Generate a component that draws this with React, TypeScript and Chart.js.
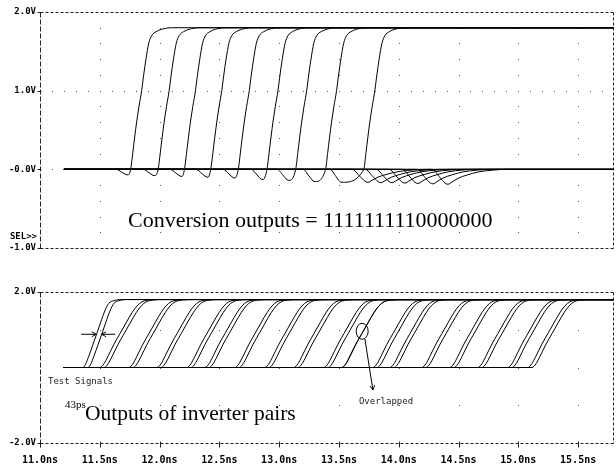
import React, { useEffect, useRef } from "react";
import { Chart, registerables } from "chart.js";

Chart.register(...registerables);

// ---------- axes ----------
const X_MIN = 11.0;
const X_MAX = 15.8;
const X_TICKS = [11.0, 11.5, 12.0, 12.5, 13.0, 13.5, 14.0, 14.5, 15.0, 15.5];
const X_TICK_LABELS = ["11.0ns", "11.5ns", "12.0ns", "12.5ns", "13.0ns", "13.5ns", "14.0ns", "14.5ns", "15.0ns", "15.5ns"];
const TOP_Y_TICKS = [-1, 0, 1, 2];
const TOP_Y_LABELS = ["-1.0V", "-0.0V", "1.0V", "2.0V"];
const BOT_Y_TICKS = [-2, 2];
const BOT_Y_LABELS = ["-2.0V", "2.0V"];
const GRID_X = [11.5, 12.0, 12.5, 13.0, 13.5, 14.0, 14.5, 15.0, 15.5];
const TOP_DOT_V = [-0.8, -0.6, -0.4, -0.2, 0, 0.2, 0.4, 0.6, 0.8, 1.0, 1.2, 1.4, 1.6, 1.8];
const TOP_HLINE_V = [0, 1];
const BOT_DOT_V = [-1, 0, 1];

// ---------- common levels ----------
const START_T = 11.2;
const END_T = 15.8;
const HIGH_V = 1.8;

// ---------- top panel: comparator outputs (9 ones, 7 zeros) ----------
const ONE_RISE_T = [11.85, 12.08, 12.30, 12.52, 12.75, 12.99, 13.23, 13.48, 13.80]; // 1.0V crossing
const ONE_DIP_T = [11.736, 11.962, 12.188, 12.405, 12.631, 12.865, 13.083, 13.300, 13.525];
const ONE_DIP_V = [-0.07, -0.08, -0.09, -0.10, -0.11, -0.13, -0.14, -0.155, -0.165];
const ZERO_DIP_T = [13.743, 13.852, 13.944, 14.052, 14.161, 14.286, 14.412];
const ZERO_DIP_V = [-0.165, -0.17, -0.17, -0.175, -0.18, -0.185, -0.19];

// rise waveform (time from 1.0V crossing, volts)
const RISE_DT = [-0.092, -0.075, -0.059, -0.042, -0.022, 0, 0.017, 0.036, 0.059, 0.084, 0.121, 0.167, 0.25];
const RISE_V = [0, 0.2, 0.4, 0.6, 0.8, 1.0, 1.2, 1.4, 1.6, 1.7, 1.75, 1.78, 1.8];
// undershoot before the rise (time from dip minimum, fraction of dip depth)
const DIP_DT = [-0.1, -0.05, -0.017, 0];
const DIP_K = [0, 0.55, 0.95, 1];
// undershoot of a "0" output (time from dip minimum, fraction of depth)
const ZERO_DT = [-0.134, -0.067, -0.025, 0, 0.033, 0.084, 0.159, 0.25, 0.376, 0.5];
const ZERO_K = [0, 0.55, 0.92, 1, 0.85, 0.6, 0.38, 0.18, 0.05, 0];

// ---------- bottom panel: test signals and inverter pair outputs ----------
const TEST_MID_T = [11.475, 11.518]; // 0.9V crossing, 43ps apart
const PAIR_A_MID_T = [11.669, 11.911, 12.146, 12.396, 12.547, 12.798, 13.048, 13.291, 13.542, 13.692, 13.952, 14.094, 14.361, 14.595, 14.829, 15.080, 15.247];
const PAIR_B_MID_T = [11.704, 11.946, 12.181, 12.431, 12.582, 12.833, 13.083, 13.326, 13.577, 13.692, 13.987, 14.129, 14.396, 14.630, 14.864, 15.115, 15.282];
const TEST_DT = [-0.117, -0.092, -0.067, -0.033, 0, 0.033, 0.067, 0.1, 0.142, 0.209];
const TEST_V = [0, 0.1, 0.3, 0.6, 0.9, 1.2, 1.5, 1.7, 1.77, 1.8];
const INV_DT = [-0.167, -0.134, -0.1, -0.05, 0, 0.05, 0.1, 0.142, 0.184, 0.25, 0.334];
const INV_V = [0, 0.1, 0.3, 0.62, 0.9, 1.18, 1.45, 1.63, 1.74, 1.79, 1.8];

type P = { x: number; y: number };

function onePoints(i: number): P[] {
  const pts: P[] = [{ x: START_T, y: 0 }];
  DIP_DT.forEach((dt, k) => pts.push({ x: ONE_DIP_T[i] + dt, y: ONE_DIP_V[i] * DIP_K[k] }));
  RISE_DT.forEach((dt, k) => pts.push({ x: ONE_RISE_T[i] + dt, y: RISE_V[k] }));
  pts.push({ x: END_T, y: HIGH_V });
  return pts;
}
function zeroPoints(i: number): P[] {
  const pts: P[] = [{ x: START_T, y: 0 }];
  ZERO_DT.forEach((dt, k) => pts.push({ x: ZERO_DIP_T[i] + dt, y: ZERO_DIP_V[i] * ZERO_K[k] }));
  pts.push({ x: END_T, y: 0 });
  return pts;
}
function stepPoints(mid: number, dts: number[], vs: number[]): P[] {
  const pts: P[] = [{ x: START_T, y: 0 }];
  dts.forEach((dt, k) => pts.push({ x: mid + dt, y: vs[k] }));
  pts.push({ x: END_T, y: HIGH_V });
  return pts;
}

function lineDs(data: P[]) {
  return {
    data,
    borderColor: "#000",
    borderWidth: 1,
    pointRadius: 0,
    cubicInterpolationMode: "monotone" as const,
    fill: false,
  };
}

const MONO = '"DejaVu Sans Mono", "Liberation Mono", monospace';
const SERIF = '"Liberation Serif", "Times New Roman", serif';

function crisp(v: number) {
  return Math.round(v) + 0.5;
}

function framePlugin(id: string, dotV: number[], hLines: number[], xTicksMarks: boolean) {
  return {
    id,
    beforeDatasetsDraw(chart: any) {
      const { ctx, chartArea } = chart;
      const xs = chart.scales.x;
      const ys = chart.scales.y;
      const L = crisp(chartArea.left), R = crisp(chartArea.right - 1);
      const T = crisp(chartArea.top), B = crisp(chartArea.bottom);
      ctx.save();
      // dotted grid
      ctx.fillStyle = "#555";
      GRID_X.forEach((t) => {
        const px = Math.round(xs.getPixelForValue(t));
        dotV.forEach((v) => {
          const py = Math.round(ys.getPixelForValue(v));
          ctx.fillRect(px, py, 1, 1);
        });
      });
      hLines.forEach((v) => {
        const py = Math.round(ys.getPixelForValue(v));
        for (let t = X_MIN + 0.1; t < X_MAX - 0.05; t += 0.1) {
          ctx.fillRect(Math.round(xs.getPixelForValue(t)), py, 1, 1);
        }
      });
      // dashed frame
      ctx.strokeStyle = "#222";
      ctx.lineWidth = 1;
      ctx.setLineDash([3, 2]);
      ctx.beginPath();
      ctx.moveTo(L, T); ctx.lineTo(R, T);
      ctx.moveTo(R, T); ctx.lineTo(R, B);
      ctx.moveTo(L, B); ctx.lineTo(R, B);
      ctx.stroke();
      ctx.setLineDash([5, 2]);
      ctx.beginPath();
      ctx.moveTo(L, T); ctx.lineTo(L, B);
      ctx.stroke();
      ctx.setLineDash([]);
      // y tick marks
      ctx.beginPath();
      ys.ticks.forEach((tk: any) => {
        const py = crisp(ys.getPixelForValue(tk.value));
        ctx.moveTo(L - 3, py); ctx.lineTo(L + 1, py);
      });
      if (xTicksMarks) {
        X_TICKS.forEach((t) => {
          const px = crisp(xs.getPixelForValue(t));
          ctx.moveTo(px, B - 2); ctx.lineTo(px, B + 4);
        });
      }
      ctx.stroke();
      ctx.restore();
    },
  };
}

function arrow(ctx: CanvasRenderingContext2D, x1: number, y1: number, x2: number, y2: number, head: number) {
  const a = Math.atan2(y2 - y1, x2 - x1);
  ctx.beginPath();
  ctx.moveTo(x1, y1);
  ctx.lineTo(x2, y2);
  ctx.moveTo(x2 - head * Math.cos(a - 0.5), y2 - head * Math.sin(a - 0.5));
  ctx.lineTo(x2, y2);
  ctx.lineTo(x2 - head * Math.cos(a + 0.5), y2 - head * Math.sin(a + 0.5));
  ctx.stroke();
}

const topNotes = {
  id: "topNotes",
  afterDraw(chart: any) {
    const { ctx, chartArea } = chart;
    const xs = chart.scales.x, ys = chart.scales.y;
    ctx.save();
    ctx.fillStyle = "#000";
    ctx.font = `22px ${SERIF}`;
    ctx.textBaseline = "alphabetic";
    ctx.textAlign = "left";
    ctx.fillText("Conversion outputs = 1111111110000000", xs.getPixelForValue(11.736), ys.getPixelForValue(-0.737));
    ctx.font = `bold 9px ${MONO}`;
    ctx.textAlign = "right";
    ctx.textBaseline = "middle";
    ctx.fillText("SEL>>", chartArea.left - 3, ys.getPixelForValue(-0.85));
    ctx.restore();
  },
};

const botNotes = {
  id: "botNotes",
  afterDraw(chart: any) {
    const { ctx } = chart;
    const xs = chart.scales.x, ys = chart.scales.y;
    const X = (t: number) => xs.getPixelForValue(t);
    const Y = (v: number) => ys.getPixelForValue(v);
    ctx.save();
    ctx.strokeStyle = "#000";
    ctx.lineWidth = 1;
    ctx.textAlign = "left";
    ctx.font = `9px ${MONO}`;
    ctx.textBaseline = "middle";
    ctx.fillStyle = "#222";
    ctx.fillText("Test Signals", X(11.067), Y(-0.384));
    ctx.fillText("Overlapped", X(13.667), Y(-0.91));
    ctx.fillStyle = "#000";
    ctx.textBaseline = "alphabetic";
    ctx.font = `11px ${SERIF}`;
    ctx.fillText("43ps", X(11.209), Y(-1.07));
    ctx.font = `21.5px ${SERIF}`;
    ctx.fillText("Outputs of inverter pairs", X(11.376), Y(-1.39));
    // 43ps arrows
    const ay = Y(0.88);
    arrow(ctx, X(TEST_MID_T[0] - 0.13), ay, X(TEST_MID_T[0] - 0.005), ay, 5);
    arrow(ctx, X(TEST_MID_T[1] + 0.11), ay, X(TEST_MID_T[1] - 0.003), ay, 5);
    // overlapped marker
    ctx.beginPath();
    ctx.ellipse(X(13.694), Y(0.96), 6, 8, 0, 0, Math.PI * 2);
    ctx.stroke();
    arrow(ctx, X(13.717), Y(0.755), X(13.784), Y(-0.596), 5);
    ctx.restore();
  },
};

function yScale(min: number, max: number, ticks: number[], labels: string[]) {
  return {
    type: "linear" as const,
    min,
    max,
    grid: { display: false, drawTicks: false },
    border: { display: false },
    afterBuildTicks: (s: any) => {
      s.ticks = ticks.map((v) => ({ value: v }));
    },
    afterFit: (s: any) => {
      s.width = 40;
    },
    ticks: {
      padding: 4,
      color: "#000",
      font: { family: MONO, size: 9, weight: "bold" as const },
      callback: (_v: any, i: number) => labels[i],
    },
  };
}

function xScale(show: boolean) {
  return {
    type: "linear" as const,
    min: X_MIN,
    max: X_MAX,
    display: show,
    grid: { display: false, drawTicks: false },
    border: { display: false },
    afterBuildTicks: (s: any) => {
      s.ticks = X_TICKS.map((v) => ({ value: v }));
    },
    afterFit: (s: any) => {
      s.height = show ? 21 : 0;
    },
    ticks: {
      padding: 11,
      autoSkip: false,
      maxRotation: 0,
      color: "#000",
      font: { family: MONO, size: 10, weight: "bold" as const },
      callback: (_v: any, i: number) => X_TICK_LABELS[i],
    },
  };
}

export default function App() {
  const topRef = useRef<HTMLCanvasElement>(null);
  const botRef = useRef<HTMLCanvasElement>(null);

  useEffect(() => {
    const topData = [
      ...ZERO_DIP_T.map((_, i) => lineDs(zeroPoints(i))),
      ...ONE_RISE_T.map((_, i) => lineDs(onePoints(i))),
    ];
    const botData = [
      ...TEST_MID_T.map((t) => lineDs(stepPoints(t, TEST_DT, TEST_V))),
      ...PAIR_A_MID_T.map((t) => lineDs(stepPoints(t, INV_DT, INV_V))),
      ...PAIR_B_MID_T.map((t) => lineDs(stepPoints(t, INV_DT, INV_V))),
    ];
    const top = new Chart(topRef.current as HTMLCanvasElement, {
      type: "line",
      data: { datasets: topData as any },
      options: {
        animation: false,
        responsive: false,
        events: [],
        layout: { padding: { top: 12, bottom: 216, left: 0, right: 2 } },
        plugins: { legend: { display: false }, tooltip: { enabled: false } },
        scales: { x: xScale(false) as any, y: yScale(-1, 2, TOP_Y_TICKS, TOP_Y_LABELS) as any },
      },
      plugins: [framePlugin("topFrame", TOP_DOT_V, TOP_HLINE_V, false), topNotes],
    });
    const bot = new Chart(botRef.current as HTMLCanvasElement, {
      type: "line",
      data: { datasets: botData as any },
      options: {
        animation: false,
        responsive: false,
        events: [],
        layout: { padding: { top: 292, bottom: 0, left: 0, right: 2 } },
        plugins: { legend: { display: false }, tooltip: { enabled: false } },
        scales: { x: xScale(true) as any, y: yScale(-2, 2, BOT_Y_TICKS, BOT_Y_LABELS) as any },
      },
      plugins: [framePlugin("botFrame", BOT_DOT_V, [], true), botNotes],
    });
    return () => {
      top.destroy();
      bot.destroy();
    };
  }, []);

  return (
    <div style={{ position: "fixed", left: 0, top: 0, width: 616, height: 464, background: "#fff", overflow: "hidden" }}>
      <canvas ref={topRef} width={616} height={464} style={{ position: "absolute", left: 0, top: 0 }} />
      <canvas ref={botRef} width={616} height={464} style={{ position: "absolute", left: 0, top: 0 }} />
    </div>
  );
}
